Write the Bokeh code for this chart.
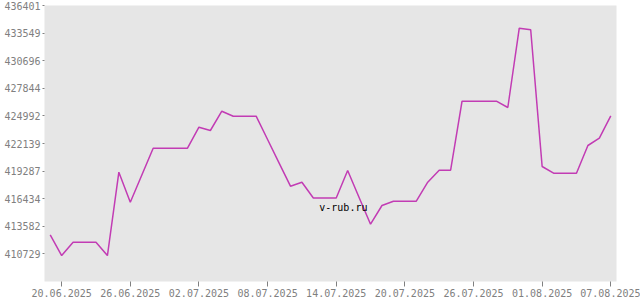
from datetime import datetime, timedelta
from bokeh.plotting import figure
from bokeh.models import FixedTicker, DatetimeTickFormatter, NumeralTickFormatter, Range1d, Label
from bokeh.embed import file_html
from bokeh.resources import INLINE

start = datetime(2025, 6, 19)
values = [412703, 410560, 411938, 411938, 411938, 410560, 419173, 416072, 418862, 421653,
          421653, 421653, 421653, 423823, 423482, 425477, 424960, 424960, 424960, 422552,
          420134, 417726, 418139, 416506, 416506, 416506, 419348, 416558, 413798, 415731,
          416175, 416175, 416175, 418139, 419379, 419379, 426510, 426510, 426510, 426510,
          425859, 434055, 433890, 419762, 419069, 419069, 419069, 421932, 422687, 425002]
dates = [start + timedelta(days=i) for i in range(len(values))]

x_tick_labels = ["20.06.2025", "26.06.2025", "02.07.2025", "08.07.2025", "14.07.2025",
                 "20.07.2025", "26.07.2025", "01.08.2025", "07.08.2025"]
y_ticks = [410729, 413582, 416434, 419287, 422139, 424992, 427844, 430696, 433549, 436401]

x_tick_ms = [datetime.strptime(s, "%d.%m.%Y").timestamp() * 1000 for s in x_tick_labels]

x0 = (start - timedelta(hours=12))
x1 = (dates[-1] + timedelta(hours=12))

p = figure(width=640, height=300, x_axis_type="datetime", output_backend="svg",
           toolbar_location=None,
           x_range=Range1d(x0, x1), y_range=Range1d(407877, 436401),
           min_border_left=44, min_border_right=24, min_border_top=5, min_border_bottom=19)

p.background_fill_color = "#e6e6e6"
p.border_fill_color = "white"
p.outline_line_color = None
p.grid.grid_line_color = None

p.line(dates, values, line_color="#c23cb4", line_width=1.5)

fmt = "%d.%m.%Y"
p.xaxis.ticker = FixedTicker(ticks=x_tick_ms)
p.xaxis.formatter = DatetimeTickFormatter(milliseconds=fmt, seconds=fmt, minsec=fmt, minutes=fmt,
                                          hourmin=fmt, hours=fmt, days=fmt, months=fmt, years=fmt)
p.yaxis.ticker = FixedTicker(ticks=y_ticks)
p.yaxis.formatter = NumeralTickFormatter(format="0")

for ax in (p.xaxis[0], p.yaxis[0]):
    ax.axis_line_color = None
    ax.major_tick_line_color = "#808080"
    ax.minor_tick_line_color = None
    ax.major_tick_in = 0
    ax.major_label_text_color = "#808080"
    ax.major_label_text_font = "DejaVu Sans Mono"
    ax.major_label_text_font_size = "10px"
    ax.major_label_standoff = 2
p.xaxis.major_tick_out = 5
p.yaxis.major_tick_out = 2

p.add_layout(Label(x=datetime(2025, 7, 14, 15).timestamp() * 1000, y=415500, text="v-rub.ru",
                   text_align="center", text_baseline="middle", text_color="black",
                   text_font="DejaVu Sans Mono", text_font_size="10px"))

open("out.html", "w").write(file_html(p, INLINE))
